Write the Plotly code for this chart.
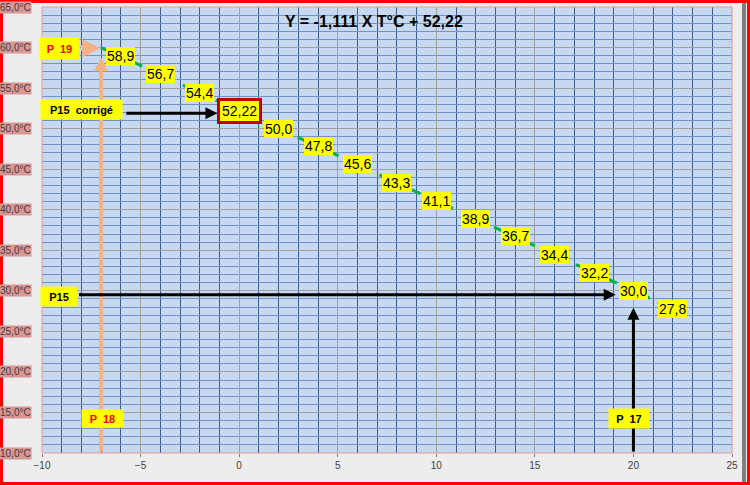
import plotly.graph_objects as go

# courbe de correction (T°C -> Y)
x_temp = [-7, -6, -4, -2, 0, 2, 4, 6, 8, 10, 12, 14, 16, 18, 20, 22]
y_val = [60.0, 58.9, 56.7, 54.4, 52.22, 50.0, 47.8, 45.6, 43.3, 41.1, 38.9, 36.7, 34.4, 32.2, 30.0, 27.8]
lbl_txt = ['', '58,9', '56,7', '54,4', '52,22', '50,0', '47,8', '45,6', '43,3', '41,1',
           '38,9', '36,7', '34,4', '32,2', '30,0', '27,8']

y_ticks = [10, 15, 20, 25, 30, 35, 40, 45, 50, 55, 60, 65]
y_tick_txt = ['10,0°C', '15,0°C', '20,0°C', '25,0°C', '30,0°C', '35,0°C',
              '40,0°C', '45,0°C', '50,0°C', '55,0°C', '60,0°C', '65,0°C']

W, H = 750, 485
ML, MR, MT, MB = 42, 18, 7, 32
PW, PH = W - ML - MR, H - MT - MB

FONT = 'Liberation Sans'
YELLOW = '#FFFF00'


def px_x(p):
    return (p - ML) / PW


def px_y(p):
    return (H - MB - p) / PH


fig = go.Figure()

fig.add_trace(go.Scatter(
    x=x_temp, y=y_val, mode='lines',
    line=dict(color='#00B050', width=3, dash='dash'),
    hoverinfo='skip', showlegend=False,
))

ann = []

# étiquettes des points
for xv, yv, t in zip(x_temp, y_val, lbl_txt):
    if not t:
        continue
    special = t == '52,22'
    ann.append(dict(
        x=xv, y=yv, text=t, showarrow=False,
        font=dict(family=FONT, size=14, color='black'),
        bgcolor=YELLOW, borderpad=1 if not special else 2,
        bordercolor='#C00000' if special else YELLOW,
        borderwidth=3 if special else 0,
    ))

# libellés de l'axe Y (fond rose)
for yv, t in zip(y_ticks, y_tick_txt):
    ann.append(dict(
        xref='paper', x=px_x(32), y=yv, xanchor='right', text=t, showarrow=False,
        font=dict(family=FONT, size=10, color='#404040'),
        bgcolor='#D99694', borderpad=0,
    ))

# titre / équation
ann.append(dict(
    x=6.85, y=63.2, text='<b>Y = -1,111 X T°C + 52,22</b>', showarrow=False,
    font=dict(family=FONT, size=16, color='black'),
))

# flèches
arrow_defs = [
    # (x tête, y tête, x queue, y queue, couleur, épaisseur, taille tête)
    (-7, 58.8, -7, 10, '#F4B183', 4, 0.7),
    (-7.05, 59.9, -8.1, 59.9, '#F4B183', 6, 0.6),
    (-1.1, 51.9, -5.8, 51.9, 'black', 3, 0.8),
    (19.1, 29.5, -8.2, 29.5, 'black', 3, 0.8),
    (20, 27.9, 20, 10, 'black', 3, 0.8),
]
for hx, hy, tx, ty, c, w, sz in arrow_defs:
    ann.append(dict(
        x=hx, y=hy, ax=tx, ay=ty, axref='x', ayref='y', text='',
        showarrow=True, arrowhead=2, arrowsize=sz, arrowwidth=w, arrowcolor=c,
        standoff=0,
    ))

# boîtes jaunes
boxes = [
    (-9.09, 59.9, '<b>P  19</b>', '#FF0000', 35, 17),
    (-8.0, 52.4, '<b>P15  corrigé</b>', 'black', 77, 15),
    (-9.14, 29.3, '<b>P15</b>', 'black', 32, 15),
    (19.8, 14.2, '<b>P  17</b>', 'black', 36, 15),
    (-6.93, 14.2, '<b>P  18</b>', '#FF0000', 37, 13),
]
for bx, by, t, c, bw, bh in boxes:
    ann.append(dict(
        x=bx, y=by, text=t, showarrow=False, width=bw, height=bh,
        font=dict(family=FONT, size=11, color=c),
        bgcolor=YELLOW, borderpad=2,
    ))

shapes = [
    # cadre de la zone de tracé
    dict(type='rect', xref='paper', yref='paper', x0=0, x1=1, y0=0, y1=1,
         line=dict(color='#E39A9A', width=1), layer='above'),
    # bande grise à droite
    dict(type='rect', xref='paper', yref='paper', x0=px_x(742), x1=px_x(746),
         y0=px_y(482), y1=px_y(3), fillcolor='#7F7F7F', line=dict(width=0)),
    # cadre rouge de l'image
    dict(type='rect', xref='paper', yref='paper', x0=px_x(1.5), x1=px_x(748.5),
         y0=px_y(483.5), y1=px_y(1.5), line=dict(color='#FF0000', width=3)),
]

fig.update_layout(
    width=W, height=H,
    margin=dict(l=ML, r=MR, t=MT, b=MB),
    paper_bgcolor='#EDEDED', plot_bgcolor='#C6D9F1',
    showlegend=False,
    annotations=ann, shapes=shapes,
    font=dict(family=FONT),
)
fig.update_xaxes(
    range=[-10, 25], dtick=5, tick0=-10,
    showgrid=True, gridcolor='#A0A0A0', gridwidth=1,
    minor=dict(dtick=1, showgrid=True, gridcolor='#3B5C8C', gridwidth=1),
    ticks='outside', ticklen=3, tickcolor='#808080',
    tickfont=dict(family=FONT, size=10, color='#404040'),
    zeroline=False, showline=False,
)
fig.update_yaxes(
    range=[10, 65], dtick=5, tick0=10,
    showgrid=True, gridcolor='#A0A0A0', gridwidth=1,
    minor=dict(dtick=1, showgrid=True, gridcolor='#7393C4', gridwidth=1),
    showticklabels=False, zeroline=False, showline=False,
)

# la page n'a pas de marge pour que la figure occupe toute la fenêtre
fig.write_html('out.html', config={'displayModeBar': False},
               post_script="document.body.style.margin='0';")
